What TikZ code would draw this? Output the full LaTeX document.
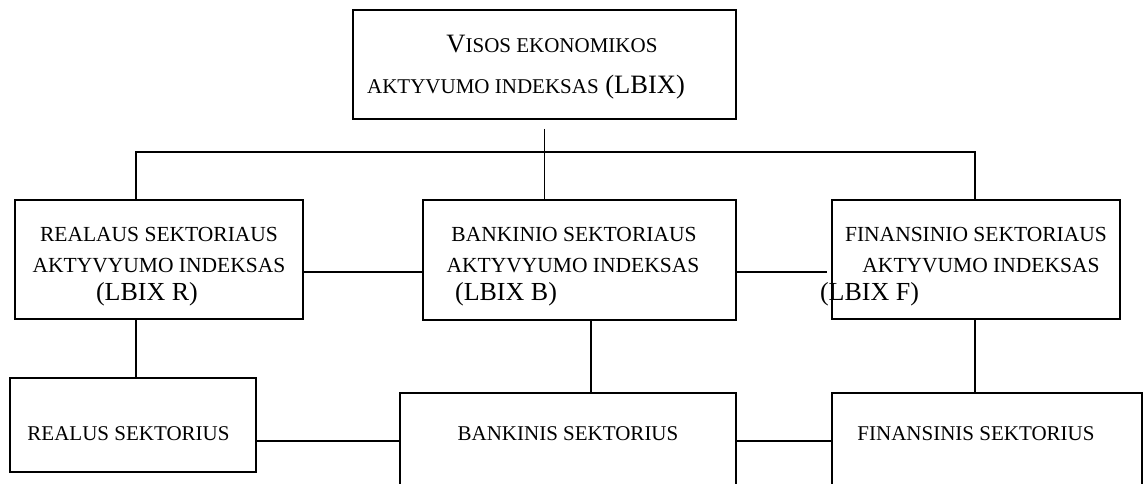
\documentclass[tikz,border=0pt]{standalone}
\usepackage{fontspec}
\setmainfont{Liberation Serif}
\usetikzlibrary{calc}

\newcommand{\smallcap}[1]{{\fontsize{21}{24}\selectfont #1}}

\begin{document}
\begin{tikzpicture}[x=1pt,y=-1pt,line width=1.8pt,
  top box/.style={draw,rectangle,align=center,inner sep=0pt,minimum width=383pt,minimum height=109pt,font=\fontsize{26.5}{41}\selectfont},
  index box/.style={draw,rectangle,align=center,inner sep=0pt,minimum width=288pt,minimum height=119pt,font=\fontsize{21.5}{31}\selectfont},
  sector box/.style={draw,rectangle,anchor=north,inner sep=0pt,font=\fontsize{21}{25}\selectfont}]

  \useasboundingbox (0,0) rectangle (1144,484);
  \clip (0,0) rectangle (1144,484);

  \node[top box] (top) at (544.5,64.5)
    {\rule{0pt}{23.5pt}\hspace*{15pt}V\smallcap{ISOS EKONOMIKOS}\\
     \hspace*{-37pt}\smallcap{AKTYVUMO INDEKSAS} (LBIX)};

  \node[index box] (realidx) at (159,259.5)
    {\rule{0pt}{28pt}REALAUS SEKTORIAUS\\
     AKTYVYUMO INDEKSAS\\[-3pt]
     \hspace*{-24pt}{\fontsize{26}{28}\selectfont (LBIX R)}};
  \node[index box,minimum width=313pt,minimum height=120pt] (bankidx) at (579.5,260)
    {\rule{0pt}{28pt}\hspace*{-11pt}BANKINIO SEKTORIAUS\\
     \hspace*{-13pt}AKTYVYUMO INDEKSAS\\[-3pt]
     \hspace*{-147pt}{\fontsize{26}{28}\selectfont (LBIX B)}};
  \node[index box] (finidx) at (976,259.5)
    {\rule{0pt}{28pt}FINANSINIO SEKTORIAUS\\
     \hspace*{10pt}AKTYVUMO INDEKSAS\\[-3pt]
     \hspace*{-213pt}{\fontsize{26}{28}\selectfont (LBIX F)}};

  \node[sector box,minimum width=246pt,text height=63pt,text depth=31pt] (realsec) at (133,377)
    {\hspace*{-9pt}REALUS SEKTORIUS};
  \node[sector box,minimum width=336pt,text height=48pt,text depth=60pt] (banksec) at (568,392)
    {BANKINIS SEKTORIUS};
  \node[sector box,minimum width=310pt,text height=48pt,text depth=60pt] (finsec) at (987,392)
    {\hspace*{-22pt}FINANSINIS SEKTORIUS};

  \coordinate (busL) at (136,152);
  \coordinate (busR) at (975,152);

  \draw (top.south) ++(0,9) coordinate (drop) -- (drop |- bankidx.north);
  \draw (busL |- realidx.north) -- (busL) -- (busR) -- (busR |- finidx.north);

  \draw (realidx.east) ++(0,12.5) coordinate (rb) -- (rb -| bankidx.west);
  \draw (bankidx.east) ++(0,12) coordinate (bf) -- ($(bf -| finidx.west)+(-4,0)$);

  \draw (busL |- realidx.south) -- (busL |- realsec.north);
  \draw ($(bankidx.south)+(11.5,0)$) coordinate (bs) -- (bs |- banksec.north);
  \draw (busR |- finidx.south) -- (busR |- finsec.north);

  \draw (realsec.base east) -- (banksec.base west);
  \draw (banksec.base east) -- (finsec.base west);
\end{tikzpicture}
\end{document}
